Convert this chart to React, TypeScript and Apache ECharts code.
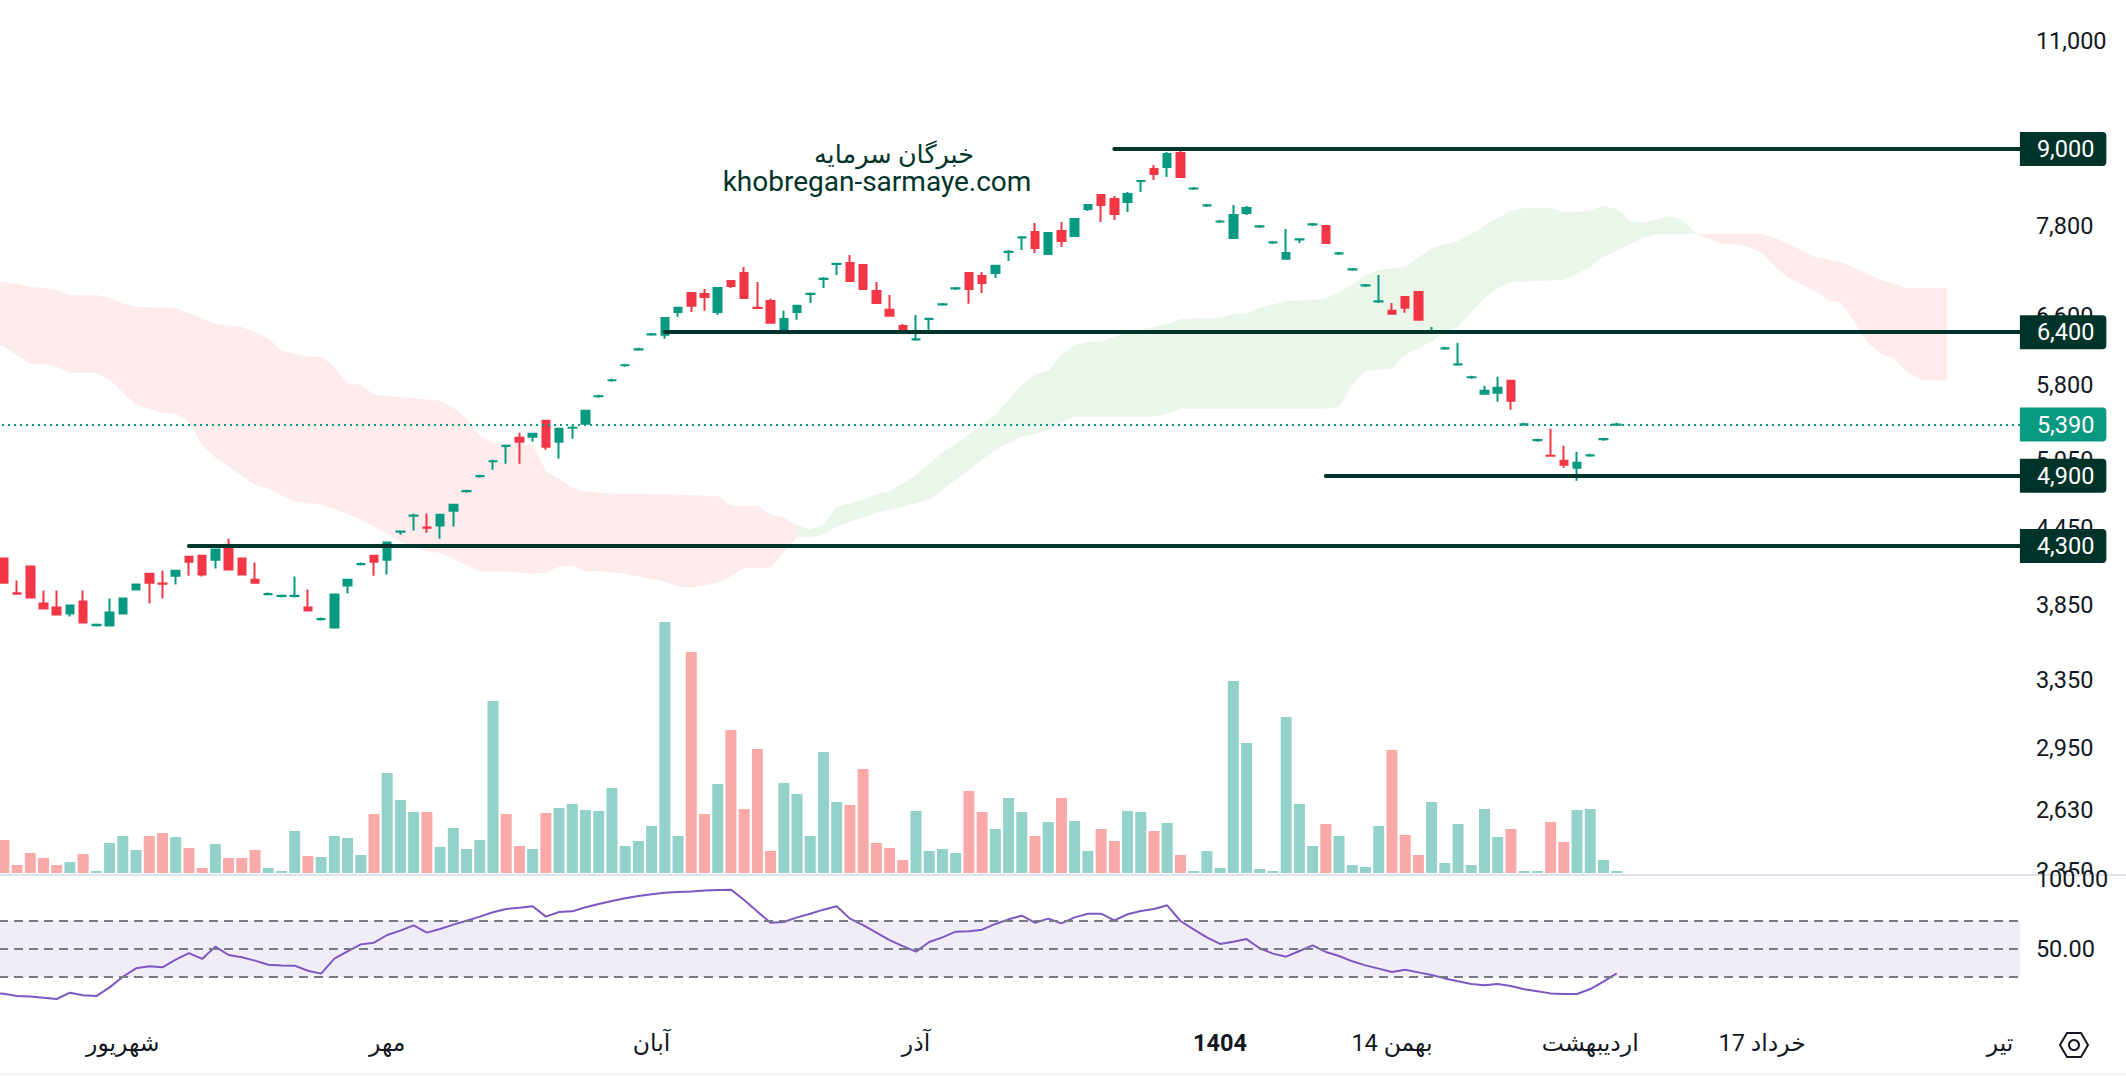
import React, { useEffect, useRef } from "react";
import * as echarts from "echarts";

// [open, close, low, high]; the first bar lies just off the left edge
const candles: number[][] = [
[4230,4205,4195,4240],
[4200,4016,4009,4200],[3937,3935,3935,4032],[4138,3906,3906,4138],[3863,3827,3827,3958],[3834,3785,3785,3958],
[3792,3849,3771,3856],[3878,3729,3729,3958],[3711,3713,3701,3722],[3708,3799,3708,3899],[3792,3899,3792,3899],
[3965,4002,3958,4002],[4084,4016,3863,4084],[4010,4008,3899,4107],[4069,4107,4002,4107],[4215,4176,4069,4215],
[4223,4077,4062,4223],[4192,4271,4123,4271],[4287,4115,4115,4359],[4200,4077,4077,4200],[4039,4016,4016,4169],
[3931,3933,3921,3943],[3917,3919,3906,3928],[3917,3919,3906,4062],[3834,3813,3813,3965],[3752,3754,3743,3764],
[3695,3928,3695,3928],[3995,4039,3936,4039],[4156,4158,4146,4169],[4223,4176,4069,4223],[4192,4328,4077,4328],
[4415,4417,4391,4417],[4549,4551,4425,4567],[4450,4448,4408,4567],[4466,4558,4359,4558],[4591,4643,4458,4643],
[4761,4763,4748,4775],[4895,4897,4882,4909],[5033,5035,4955,5048],[5180,5182,5010,5182],[5259,5221,5010,5308],
[5269,5298,5221,5298],[5428,5172,5143,5438],[5221,5348,5057,5358],[5357,5359,5250,5378],[5398,5530,5388,5530],
[5680,5682,5665,5697],[5852,5854,5836,5869],[6018,6020,6001,6035],[6199,6201,6182,6217],[6374,6376,6357,6392],
[6369,6573,6322,6573],[6647,6697,6586,6697],[6885,6722,6647,6885],[6873,6835,6660,6937],[6647,6950,6610,6950],
[7041,6976,6950,7041],[7147,6822,6822,7227],[6698,6696,6696,7028],[6784,6513,6513,6810],[6416,6561,6416,6660],
[6647,6722,6549,6722],[6872,6874,6759,6874],[7066,7068,6950,7093],[7267,7269,7120,7269],[7281,7041,7041,7390],
[7254,6937,6937,7254],[6911,6759,6759,7028],[6672,6598,6598,6860],[6476,6428,6428,6500],[6314,6316,6298,6610],
[6560,6562,6404,6562],[6740,6742,6722,6759],[6943,6945,6924,6963],[7147,6937,6747,7147],[7107,7015,6885,7160],
[7147,7241,7080,7241],[7431,7433,7308,7459],[7634,7636,7459,7636],[7713,7487,7418,7843],[7404,7699,7404,7699],
[7728,7585,7501,7858],[7656,7902,7656,7902],[8050,8110,8020,8110],[8262,8110,7858,8262],[8201,7976,7887,8247],
[8156,8277,8005,8308],[8479,8481,8308,8481],[8671,8591,8496,8736],[8703,8917,8543,8950],[8933,8543,8543,9034],
[8362,8364,8339,8386],[8102,8104,8080,8125],[7864,7866,7843,7887],[7627,7960,7627,8110],[7990,8065,7960,8095],
[7792,7794,7771,7814],[7563,7565,7543,7585],[7336,7418,7336,7756],[7605,7607,7557,7607],[7821,7823,7800,7843],
[7800,7557,7557,7800],[7410,7412,7390,7432],[7193,7195,7174,7214],[6982,6984,6963,7002],[6777,6779,6759,7120],
[6660,6623,6623,6759],[6835,6697,6635,6835],[6899,6549,6549,6899],[6409,6411,6392,6464],[6210,6212,6194,6229],
[6028,6030,6012,6275],[5885,5887,5869,5902],[5707,5739,5707,5793],[5718,5771,5623,5891],[5847,5634,5540,5847],
[5391,5393,5378,5408],[5234,5236,5221,5250],[5087,5085,5076,5348],[5039,5001,4973,5181],[4973,5020,4855,5124],
[5089,5091,5076,5105],[5244,5246,5230,5259],[5388,5390,5378,5408],
];

const volumes: number[] = [
30,
33,8,20,15,8,11,19,2,30,37,23,37,40,36,25,5,29,15,15,23,5,2,42,17,16,37,35,18,59,100,
73,61,61,26,45,24,33,172,59,27,24,60,65,69,63,62,85,27,32,47,251,37,221,59,89,143,64,124,22,90,
79,37,121,71,68,104,30,25,13,62,22,24,20,82,61,44,75,61,37,51,75,52,22,44,32,62,61,42,50,18,
2,22,5,192,130,4,2,156,69,27,49,37,8,6,47,123,38,18,71,10,49,8,64,36,44,2,2,51,31,63,64,13,2,
];
const volumeDirs =
  "r" + "rrrrrgr" + "gggg" + "rr" + "g" + "rr" + "g" + "rrr" + "ggg" + "r" + "gggg" + "r" + "ggg" + "r" +
  "ggggg" + "rr" + "g" + "r" + "gggggggggg" + "rr" + "g" + "rrrr" + "ggggg" + "rrrrr" + "gggg" + "rr" +
  "g" + "gg" + "r" + "g" + "r" + "gg" + "rr" + "gg" + "r" + "g" + "r" + "gggggggggg" + "r" + "gggg" +
  "rrr" + "gggggg" + "r" + "gg" + "rr" + "gggg";

const rsi: number[] = [
18.6,
18.1,16.4,16,15.2,14.3,18.8,16.9,16.4,22.6,30.2,36.2,37.6,36.9,42.4,47.1,42.9,51.7,45.7,44.1,41.7,
38.8,38.3,38.1,34.5,32.4,43.1,48.3,53.3,54.5,60,63.1,66.9,61.7,64.3,67.4,70.2,73.1,76.2,78.6,79.5,
80.5,73.1,76.4,76.9,79.8,82.1,84.3,86.2,87.9,89.1,90.2,90.7,91,91.7,92.1,92.4,85,76.7,68.8,69.3,
72.6,75.2,78.1,80.5,71.7,67.1,61.7,56.4,52.1,48.1,55,58.3,62.4,62.6,63.8,67.9,71.2,73.8,68.8,71.7,
68.3,72.6,75.2,75.2,70.5,74.8,77.1,78.6,81.2,70,64,58.3,53.6,55.2,57.1,50.5,46.7,44.5,48.6,52.6,
47.9,45,41.2,38.3,36,33.6,35.2,33.3,31.4,29,26.9,25,24.1,25,23.6,21.2,19.8,18.3,17.9,17.9,
21.4,26.7,32.6,
];

// cloud edges: [visible bar number, price]; -1 is the bar off the left edge
const redUpperA = [[-1,7050],[0,7028],[1,7002],[2,6963],[3,6950],[4,6924],[5,6860],[7,6860],[8,6822],[9,6751],[10,6709],[13,6697],[16,6500],[18,6464],[20,6333],[21,6182],[23,6114],[24,6114],[25,6001],[26,5815],[27,5804],[28,5697],[33,5634],[34,5561],[35,5448],[36,5279],[37,5211],[40,5191],[41,4946],[43,4793],[44,4757],[46,4739],[51,4730],[54,4720],[55,4634],[57,4634],[58,4558],[59,4533],[60,4466]];
const redLowerA = [[-1,6300],[0,6229],[2,6035],[3,6035],[4,6001],[5,5935],[7,5935],[8,5858],[10,5592],[12,5509],[13,5499],[14,5418],[15,5191],[16,5067],[18,4900],[19,4819],[20,4784],[22,4669],[24,4643],[25,4609],[27,4516],[28,4458],[30,4335],[32,4255],[33,4247],[36,4100],[38,4100],[40,4084],[41,4092],[42,4138],[43,4146],[44,4100],[45,4107],[46,4092],[47,4084],[48,4062],[50,4024],[51,3987],[52,3980],[54,4016],[55,4062],[56,4130],[58,4130],[60,4375]];
const greenUpper = [[60,4466],[61,4433],[62,4474],[63,4626],[65,4687],[66,4739],[67,4757],[69,4909],[71,5114],[72,5201],[75,5489],[77,5804],[78,5913],[79,5957],[80,6137],[81,6252],[82,6287],[83,6287],[84,6345],[85,6404],[87,6464],[88,6500],[89,6561],[92,6573],[93,6623],[94,6623],[95,6697],[97,6784],[99,6797],[100,6822],[101,6885],[103,7120],[104,7187],[106,7227],[108,7487],[110,7585],[111,7685],[113,7918],[114,8020],[115,8065],[117,8065],[118,8005],[119,8005],[120,8035],[121,8095],[122,8050],[123,7872],[124,7843],[126,7946],[127,7887],[128,7685]];
const greenLower = [[60,4375],[61,4367],[62,4391],[63,4458],[66,4575],[68,4626],[70,4687],[72,4864],[75,5143],[77,5269],[79,5328],[80,5418],[81,5468],[87,5468],[88,5499],[89,5551],[100,5551],[101,5572],[102,5804],[103,5957],[105,5980],[106,6137],[108,6287],[109,6404],[110,6464],[111,6647],[112,6822],[113,6950],[114,7028],[118,7054],[120,7227],[121,7363],[124,7627],[125,7685],[128,7685]];
const redUpperB = [[128,7685],[133,7685],[134,7627],[135,7543],[137,7363],[139,7295],[142,7054],[144,6950],[147,6950]];
const redLowerB = [[128,7685],[130,7543],[131,7543],[132,7501],[133,7418],[134,7227],[135,7080],[137,6911],[138,6797],[139,6759],[141,6275],[142,6149],[143,6091],[144,5935],[145,5858],[147,5847]];

const priceTicks = [11000, 7800, 6600, 5800, 5050, 4450, 3850, 3350, 2950, 2630, 2350];
const rsiTicks = [100, 50];
const rsiLevels = [70, 50, 30];
const levels: [number, number][] = [[9000, 85], [6400, 51], [4900, 101], [4300, 15]];
const lastPrice = 5390;
const timeLabels: [number, string][] = [
  [10, "شهریور"], [30, "مهر"], [50, "آبان"], [70, "آذر"], [93, "1404"],
  [106, "بهمن 14"], [121, "اردیبهشت"], [134, "خرداد 17"], [152, "تیر"],
];
const BAR_COUNT = 154;
const categories: string[] = Array.from({ length: BAR_COUNT }, () => "");
timeLabels.forEach(([i, t]) => (categories[i] = t));

const GREEN = "#089981";
const RED = "#F23645";
const DARK = "#00332A";
const TEXT = "#131722";
const FONT = "Roboto, 'Noto Sans', 'DejaVu Sans', sans-serif";
// the chart box starts 16px left of the page, so the off-edge bar is clipped by the page
const OX = 16;
const WIDTH = 2035.9;

const fmt = (v: number) => Math.round(v).toLocaleString("en-US");

function band(name: string, upper: number[][], lower: number[][], fill: string) {
  const pts = [...upper, ...[...lower].reverse()].map(([i, p]) => [i + 1, p]);
  return {
    type: "custom",
    name,
    xAxisIndex: 0,
    yAxisIndex: 0,
    z: 2,
    silent: true,
    clip: true,
    data: [pts[0]],
    renderItem: (_p: any, api: any) => ({
      type: "polygon",
      shape: { points: pts.map((d) => api.coord(d)) },
      style: { fill, stroke: "none" },
    }),
  };
}

const boxLabel = (bg: string, text: string) => ({
  show: true,
  position: "end",
  distance: 0,
  formatter: text,
  color: "#ffffff",
  fontFamily: FONT,
  fontSize: 23.5,
  lineHeight: 34,
  backgroundColor: bg,
  padding: [0, 12, 0, 17],
  borderRadius: [0, 4, 4, 0],
});

export default function App() {
  const ref = useRef<HTMLDivElement>(null);
  useEffect(() => {
    document.body.style.margin = "0";
    document.body.style.overflow = "hidden";
    const chart = echarts.init(ref.current!, undefined, { renderer: "svg" });
    const hiddenX = (gridIndex: number) => ({
      type: "category",
      gridIndex,
      data: categories,
      boundaryGap: true,
      axisLine: { show: false },
      axisTick: { show: false },
      axisLabel: { show: false },
      splitLine: { show: false },
    });
    chart.setOption({
      animation: false,
      backgroundColor: "#ffffff",
      textStyle: { fontFamily: FONT },
      grid: [
        { left: 0, width: WIDTH, top: 0, height: 873 },
        { left: 0, width: WIDTH, top: 874.8, height: 155.4 },
        { left: 0, width: WIDTH, top: 600, height: 273 },
      ],
      xAxis: [
        hiddenX(0),
        {
          type: "category",
          gridIndex: 1,
          data: categories,
          boundaryGap: true,
          axisLine: { show: false },
          axisTick: { show: false },
          splitLine: { show: false },
          axisLabel: {
            show: true,
            interval: 0,
            margin: 1,
            hideOverlap: false,
            color: TEXT,
            fontFamily: FONT,
            fontSize: 23.5,
            formatter: (v: string) => (v === "1404" ? "{b|1404}" : v),
            rich: { b: { fontWeight: "bold", fontSize: 23.5, color: TEXT, fontFamily: FONT } },
          },
        },
        hiddenX(2),
      ],
      yAxis: [
        {
          type: "log",
          gridIndex: 0,
          position: "right",
          min: 2340,
          max: 11875,
          z: 0,
          axisLine: { show: false },
          axisTick: { show: false },
          splitLine: { show: false },
          minorTick: { show: false },
          axisLabel: {
            show: true,
            margin: 16,
            color: TEXT,
            fontFamily: FONT,
            fontSize: 23.5,
            customValues: priceTicks,
            formatter: (v: number) => fmt(v),
          },
        },
        {
          type: "value",
          gridIndex: 1,
          position: "right",
          min: -8,
          max: 103,
          z: 2,
          axisLine: { show: false },
          axisTick: { show: false },
          splitLine: { show: false },
          axisLabel: {
            show: true,
            margin: 16,
            color: TEXT,
            fontFamily: FONT,
            fontSize: 23.5,
            customValues: rsiTicks,
            formatter: (v: number) => v.toFixed(2),
          },
        },
        { type: "value", gridIndex: 2, min: 0, max: 273, show: false },
      ],
      graphic: [
        { type: "rect", z: 1, silent: true, shape: { x: 2030 + OX, y: 875, width: 96, height: 14 }, style: { fill: "#ffffff" } },
        { type: "line", z: 1, silent: true, shape: { x1: 0, y1: 875, x2: 2126 + OX, y2: 875 }, style: { stroke: "#E0E3EB", lineWidth: 2 } },
        { type: "line", z: 1, silent: true, shape: { x1: 0, y1: 1074, x2: 2126 + OX, y2: 1074 }, style: { stroke: "#F0F3FA", lineWidth: 2 } },
        { type: "text", z: 6, silent: true, x: 894 + OX, y: 154, style: { text: "خبرگان سرمایه", fill: DARK, font: `25.5px ${FONT}`, textAlign: "center", textVerticalAlign: "middle" } },
        { type: "text", z: 6, silent: true, x: 877 + OX, y: 181, style: { text: "khobregan-sarmaye.com", fill: DARK, font: `28px ${FONT}`, textAlign: "center", textVerticalAlign: "middle" } },
        { type: "polygon", z: 6, silent: true, x: OX, shape: { points: [[2060, 1045], [2067, 1033], [2081, 1033], [2088, 1045], [2081, 1057], [2067, 1057]] }, style: { fill: "none", stroke: TEXT, lineWidth: 2 } },
        { type: "circle", z: 6, silent: true, x: OX, shape: { cx: 2074, cy: 1045, r: 5 }, style: { fill: "none", stroke: TEXT, lineWidth: 2 } },
      ],
      series: [
        {
          type: "line",
          name: "levels",
          xAxisIndex: 0,
          yAxisIndex: 0,
          z: 1,
          data: [],
          symbol: "none",
          markLine: {
            silent: true,
            animation: false,
            symbol: "none",
            lineStyle: { color: DARK, width: 4, type: "solid", cap: "round" },
            data: levels.map(([p, start]) => [
              { xAxis: start, yAxis: p, label: boxLabel(DARK, fmt(p)) },
              { xAxis: BAR_COUNT - 1, yAxis: p, x: WIDTH },
            ]),
          },
        },
        band("cloudRedA", redUpperA, redLowerA, "rgba(242,54,69,0.1)"),
        band("cloudGreen", greenUpper, greenLower, "rgba(76,175,80,0.115)"),
        band("cloudRedB", redUpperB, redLowerB, "rgba(242,54,69,0.1)"),
        {
          type: "line",
          name: "last",
          xAxisIndex: 0,
          yAxisIndex: 0,
          z: 3,
          data: [],
          symbol: "none",
          markLine: {
            silent: true,
            animation: false,
            symbol: "none",
            lineStyle: { color: GREEN, width: 2, type: [2, 4] },
            label: boxLabel(GREEN, fmt(lastPrice)),
            data: [{ yAxis: lastPrice }],
          },
        },
        {
          type: "candlestick",
          name: "price",
          xAxisIndex: 0,
          yAxisIndex: 0,
          z: 4,
          barWidth: 8,
          silent: true,
          itemStyle: {
            color: GREEN,
            color0: RED,
            borderColor: GREEN,
            borderColor0: RED,
            borderWidth: 2,
          },
          data: candles,
        },
        {
          type: "bar",
          name: "volume",
          xAxisIndex: 2,
          yAxisIndex: 2,
          z: 3,
          barWidth: 11,
          silent: true,
          data: volumes.map((v, i) => ({
            value: v,
            itemStyle: { color: volumeDirs[i] === "r" ? "#F8A9A8" : "#93D2CB" },
          })),
        },
        {
          type: "line",
          name: "rsi",
          xAxisIndex: 1,
          yAxisIndex: 1,
          z: 4,
          symbol: "none",
          silent: true,
          lineStyle: { color: "#7E57C2", width: 2 },
          data: rsi,
          markArea: {
            silent: true,
            itemStyle: { color: "rgba(126,87,194,0.11)" },
            data: [[{ yAxis: rsiLevels[2] }, { yAxis: rsiLevels[0] }]],
          },
          markLine: {
            silent: true,
            animation: false,
            symbol: "none",
            label: { show: false },
            lineStyle: { color: "#787B86", width: 2, type: [9, 6] },
            data: rsiLevels.map((v) => ({ yAxis: v })),
          },
        },
      ],
    });
    return () => chart.dispose();
  }, []);
  return (
    <div
      ref={ref}
      style={{ position: "absolute", left: -OX, top: 0, width: 2126 + OX, height: 1076, background: "#fff" }}
    />
  );
}
